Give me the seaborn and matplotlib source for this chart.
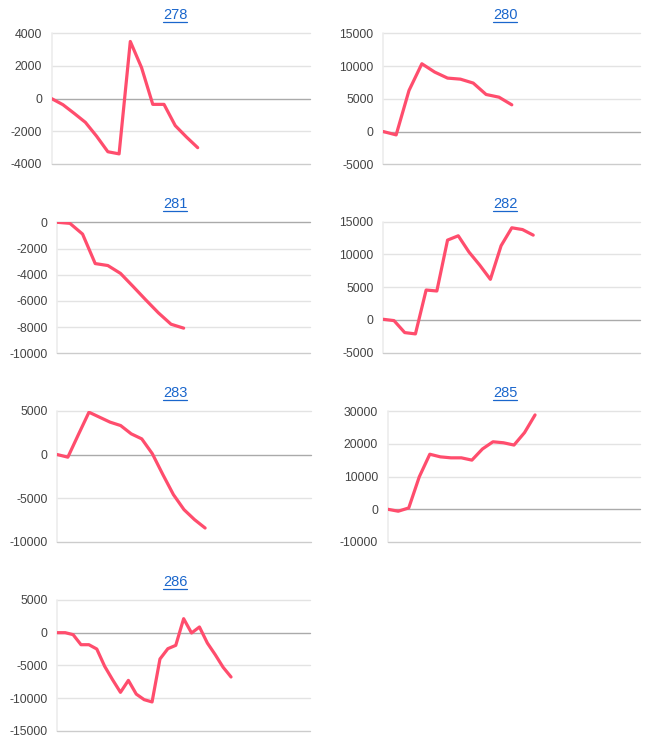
import matplotlib
matplotlib.use("Agg")
import matplotlib.pyplot as plt
from matplotlib.lines import Line2D
import seaborn as sns
import pandas as pd

# ---- data ----
titles = ["278", "280", "281", "282", "283", "285", "286"]
s278 = [0, -370, -900, -1450, -2300, -3250, -3380, 3500, 1900, -350, -350, -1650, -2350, -3000]
s280 = [0, -510, 6270, 10350, 9080, 8160, 8000, 7400, 5660, 5250, 4080]
s281 = [0, -80, -900, -3150, -3300, -3900, -4900, -5920, -6910, -7780, -8080]
s282 = [100, -100, -1930, -2130, 4570, 4420, 12190, 12850, 10370, 8380, 6200, 11330, 14070, 13800, 12950]
s283 = [0, -300, 2300, 4860, 4290, 3720, 3330, 2380, 1800, 100, -2300, -4600, -6320, -7470, -8430]
s285 = [0, -600, 400, 9900, 16800, 16000, 15700, 15700, 15000, 18400, 20600, 20300, 19600, 23400, 28800]
s286 = [0, 0, -300, -1840, -1840, -2500, -5150, -7200, -9130, -7300, -9400, -10250, -10600,
        -4030, -2450, -1940, 2140, -50, 870, -1580, -3370, -5300, -6780]
series = [s278, s280, s281, s282, s283, s285, s286]
y_ranges = [(-4000, 4000, 2000), (-5000, 15000, 5000), (-10000, 0, 2000), (-5000, 15000, 5000),
            (-10000, 5000, 5000), (-10000, 30000, 10000), (-15000, 5000, 5000)]

# ---- layout (pixels) ----
W, H = 652, 741
boxes = [(51.7, 310, 33.3, 164), (383.3, 640.3, 33.3, 164.3),
         (57.3, 310, 222.3, 353.3), (383.3, 640.3, 221.7, 352.7),
         (57.3, 310.7, 411, 541.7), (387.7, 640.3, 411, 542),
         (57.3, 310, 600, 730.7)]
title_pos = [(175, 15), (505, 15), (175, 204), (505, 204), (175, 393), (505, 393), (175, 582)]

sns.set_theme(style="white")
plt.rcParams['font.family'] = ['Liberation Sans', 'DejaVu Sans']

fig = plt.figure(figsize=(W / 100, H / 100), dpi=100)
fig.patch.set_facecolor("white")

line_color = "#ff4d6d"
title_texts = []
for i, (t, s, yr, box, tp) in enumerate(zip(titles, series, y_ranges, boxes, title_pos)):
    x0, x1, y0, y1 = box
    ax = fig.add_axes([x0 / W, 1 - y1 / H, (x1 - x0) / W, (y1 - y0) / H])
    df = pd.DataFrame({"x": range(len(s)), "y": s})
    lo, hi, step = yr
    ticks = list(range(lo, hi + 1, step))
    for tk in ticks:
        if tk == 0 or tk == lo:
            continue
        ax.axhline(tk, color="#e3e3e3", lw=1, zorder=0, clip_on=False)
    if lo != 0:
        ax.axhline(lo, color="#cccccc", lw=1, zorder=0.5, clip_on=False)
    ax.axhline(0, color="#aaaaaa", lw=1, zorder=0.6, clip_on=False)
    ax.axvline(0, color="#ececec", lw=1.2, zorder=0.4, clip_on=False)
    sns.lineplot(data=df, x="x", y="y", ax=ax, color=line_color, lw=2.3, zorder=3)
    ax.set_xlim(0, len(s) - 1 + 10)
    ax.set_ylim(lo, hi)
    ax.set_yticks(ticks)
    ax.set_yticklabels([str(v) for v in ticks], fontsize=8.8, color="#444444")
    ax.set_xticks([])
    ax.set_xlabel("")
    ax.set_ylabel("")
    ax.tick_params(axis="y", length=0, pad=7)
    for sp in ax.spines.values():
        sp.set_visible(False)
    ax.patch.set_alpha(0)
    txt = fig.text(tp[0] / W, 1 - tp[1] / H, t, ha="center", va="center",
                   fontsize=10.5, color="#1a66cc")
    title_texts.append(txt)

fig.canvas.draw()
renderer = fig.canvas.get_renderer()
for txt, tp in zip(title_texts, title_pos):
    bb = txt.get_window_extent(renderer)
    yline = 1 - (tp[1] + 6.5) / H
    fig.add_artist(Line2D([bb.x0 / W, bb.x1 / W], [yline, yline], color="#1a66cc", lw=0.9,
                          transform=fig.transFigure))

fig.savefig("out.png", dpi=100, facecolor="white")
